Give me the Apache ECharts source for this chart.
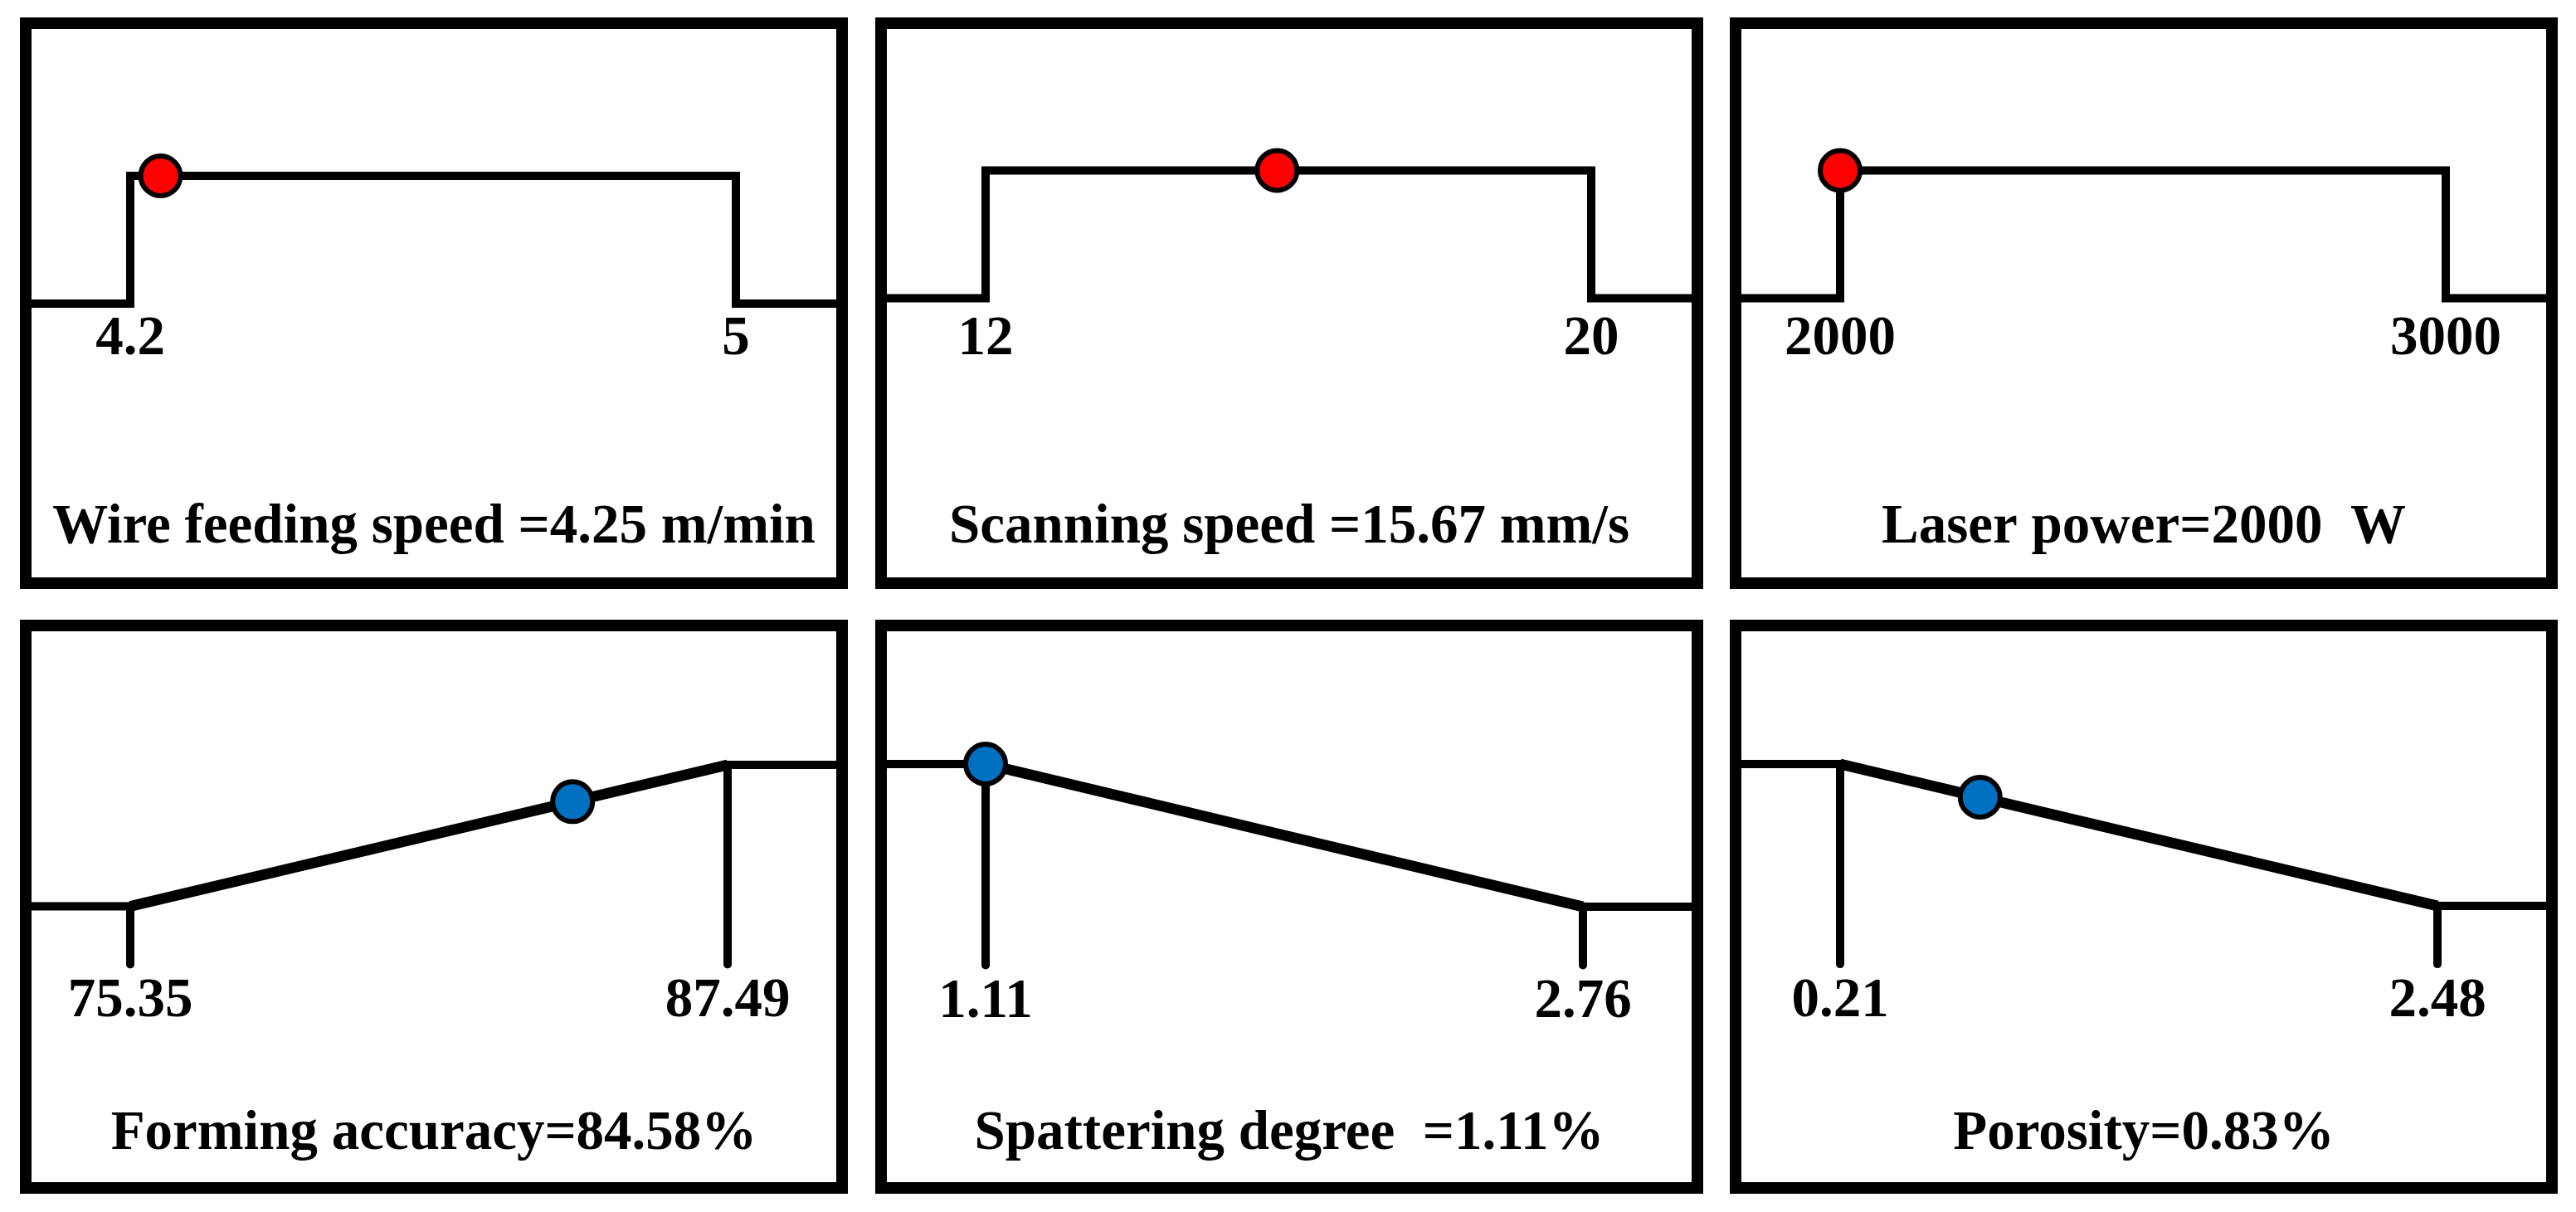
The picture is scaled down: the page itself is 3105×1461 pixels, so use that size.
<!DOCTYPE html>
<html>
<head>
<meta charset="utf-8">
<script src="https://cdn.jsdelivr.net/npm/echarts@6/dist/echarts.min.js"></script>
<style>
html,body{margin:0;padding:0;background:#fff;}
#chart{width:3105px;height:1461px;}
</style>
</head>
<body>
<div id="chart"></div>
<script>
// ---------- data ----------
const panelTitles = ['Wire feeding speed =4.25 m/min', 'Scanning speed =15.67 mm/s', 'Laser power=2000  W',
                     'Forming accuracy=84.58%', 'Spattering degree  =1.11%', 'Porosity=0.83%'];
const lowValues  = [4.2, 12, 2000, 75.35, 1.11, 0.21];
const highValues = [5, 20, 3000, 87.49, 2.76, 2.48];
const lowTickLabels  = ['4.2', '12', '2000', '75.35', '1.11', '0.21'];
const highTickLabels = ['5', '20', '3000', '87.49', '2.76', '2.48'];
// desirability: outside-low, at-low, at-high, outside-high
const dOutsideLow  = [0, 0, 0, 0, 1, 1];
const dAtLow       = [1, 1, 1, 0, 1, 1];
const dAtHigh      = [1, 1, 1, 1, 0, 0];
const dOutsideHigh = [0, 0, 0, 1, 0, 0];
// optimum point (value, desirability)
const optimumX = [4.24, 15.85, 2000, 84.34, 1.11, 0.742];
const optimumD = [1, 1, 1, 0.74, 1, 0.766];
const hasDropTicks = [false, false, false, true, true, true];

// ---------- layout (pixels) ----------
const gridLeft = [31, 1062, 2092, 31, 1062, 2092];
const gridTop  = [28, 28, 28, 754, 754, 754];
const gridW = 984;
const gridH = [675, 675, 675, 678, 678, 678];
const lowPx  = [126, 126, 126, 126, 126, 126];   // relative to grid left
const highPx = [856, 856, 856, 846, 846, 846];
const zeroPx = [366, 359.5, 359.5, 1092.5, 1093, 1092];
const onePx  = [212, 205.5, 205.5, 922, 921, 921];
const labelCapTop = [386, 386, 386, 1184, 1185, 1184];
const titleBaseline = [655, 655, 655, 1386, 1386, 1386];
const markerColor = ['#FF0000', '#FF0000', '#FF0000', '#0070C0', '#0070C0', '#0070C0'];
const tickEndD = -0.41;
const FONT = 'Liberation Serif';
const FS = 67;
const capOffset = 10;   // gap between label box top and digit cap top
const titleCapFromTop = 52;

const grids = [], xAxes = [], yAxes = [], series = [], titles = [];

for (let i = 0; i < 6; i++) {
  const lo = lowValues[i], hi = highValues[i];
  const sc = (hi - lo) / (highPx[i] - lowPx[i]);
  const xmin = lo - lowPx[i] * sc;
  const xmax = lo + (gridW - lowPx[i]) * sc;
  const unit = zeroPx[i] - onePx[i];
  const ymax = 1 + (onePx[i] - gridTop[i]) / unit;
  const ymin = -(gridTop[i] + gridH[i] - zeroPx[i]) / unit;

  grids.push({
    left: gridLeft[i], top: gridTop[i], width: gridW, height: gridH[i],
    show: true, borderColor: '#000', borderWidth: 14, backgroundColor: 'transparent'
  });
  const lbls = {};
  lbls[lo] = lowTickLabels[i];
  lbls[hi] = highTickLabels[i];
  xAxes.push({
    gridIndex: i, type: 'value', min: xmin, max: xmax,
    position: 'bottom',
    offset: -(gridTop[i] + gridH[i] - zeroPx[i]),
    axisLine: { show: false, onZero: false },
    axisTick: { show: false },
    splitLine: { show: false },
    axisLabel: {
      show: true, customValues: [lo, hi],
      margin: labelCapTop[i] - zeroPx[i] - capOffset,
      formatter: function (v) { return lbls[v] !== undefined ? lbls[v] : ''; },
      fontFamily: FONT, fontWeight: 'bold', fontSize: FS, lineHeight: FS, color: '#000',
      showMinLabel: true, showMaxLabel: true
    }
  });
  yAxes.push({
    gridIndex: i, type: 'value', min: ymin, max: ymax, show: false,
    axisLine: { onZero: false }, splitLine: { show: false }
  });

  const lineStyleBase = { color: '#000', join: 'miter', cap: 'butt' };
  // left flat + step/slope + right flat
  series.push({
    type: 'line', xAxisIndex: i, yAxisIndex: i, symbol: 'none', silent: true, z: 3,
    lineStyle: Object.assign({ width: 10 }, lineStyleBase),
    data: [[xmin, dOutsideLow[i]], [lo, dOutsideLow[i]], [lo, dAtLow[i]],
           [hi, dAtHigh[i]], [hi, dOutsideHigh[i]], [xmax, dOutsideHigh[i]]]
  });
  if (dAtLow[i] !== dAtHigh[i]) {
    series.push({
      type: 'line', xAxisIndex: i, yAxisIndex: i, symbol: 'none', silent: true, z: 3,
      lineStyle: Object.assign({ width: 13 }, lineStyleBase),
      data: [[lo, dAtLow[i]], [hi, dAtHigh[i]]]
    });
  }
  if (hasDropTicks[i]) {
    series.push({
      type: 'line', xAxisIndex: i, yAxisIndex: i, symbol: 'none', silent: true, z: 3,
      lineStyle: { color: '#000', width: 10, cap: 'round' },
      data: [[lo, dAtLow[i]], [lo, tickEndD]]
    });
    series.push({
      type: 'line', xAxisIndex: i, yAxisIndex: i, symbol: 'none', silent: true, z: 3,
      lineStyle: { color: '#000', width: 10, cap: 'round' },
      data: [[hi, dAtHigh[i]], [hi, tickEndD]]
    });
  }
  series.push({
    type: 'scatter', xAxisIndex: i, yAxisIndex: i, z: 5, silent: true,
    symbol: 'circle', symbolSize: 48,
    itemStyle: { color: markerColor[i], borderColor: '#000', borderWidth: 6, opacity: 1 },
    data: [[optimumX[i], optimumD[i]]]
  });

  titles.push({
    text: panelTitles[i],
    left: gridLeft[i] + gridW / 2, textAlign: 'center',
    top: titleBaseline[i] - titleCapFromTop, padding: 0,
    textStyle: { fontFamily: FONT, fontWeight: 'bold', fontSize: FS, lineHeight: FS, color: '#000' }
  });
}

const chart = echarts.init(document.getElementById('chart'), null, { renderer: 'canvas' });
chart.setOption({
  animation: false,
  backgroundColor: '#fff',
  title: titles,
  grid: grids,
  xAxis: xAxes,
  yAxis: yAxes,
  series: series
});
</script>
</body>
</html>
